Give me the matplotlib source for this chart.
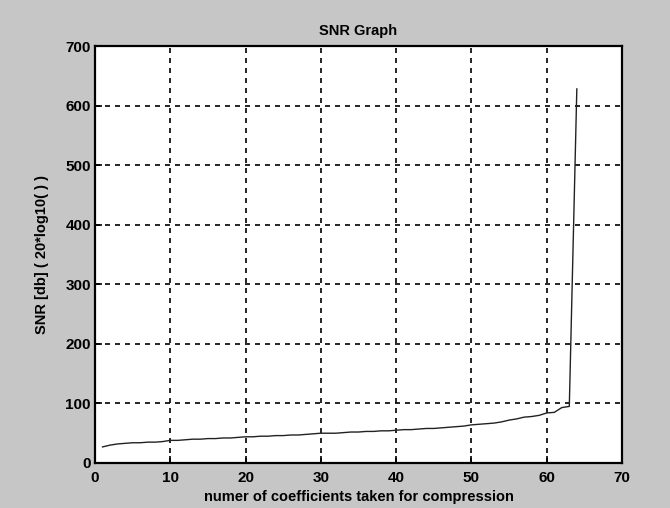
import numpy as np
import matplotlib
matplotlib.use("Agg")
import matplotlib.pyplot as plt

plt.rcParams['font.family'] = ['Liberation Sans', 'DejaVu Sans']

# SNR values, one per number of coefficients
n_coeffs = list(range(1, 65))
snr_db = [27, 30, 32, 33, 34, 34, 35, 35, 36, 38,
          38, 39, 40, 40, 41, 41, 42, 42, 43, 44,
          44, 45, 45, 46, 46, 47, 47, 48, 49, 50,
          50, 50, 51, 52, 52, 53, 53, 54, 54, 55,
          56, 56, 57, 58, 58, 59, 60, 61, 62, 64,
          65, 66, 67, 69, 72, 74, 77, 78, 80, 84,
          85, 93, 95, 628]

x_ticks = [0, 10, 20, 30, 40, 50, 60, 70]
y_ticks = [0, 100, 200, 300, 400, 500, 600, 700]

fig = plt.figure(figsize=(6.7, 5.08), dpi=100, facecolor='#c6c6c6')
ax = fig.add_axes([95 / 670, 45 / 508, 527 / 670, 417 / 508])
ax.set_facecolor('white')

ax.plot(n_coeffs, snr_db, color='#222222', linewidth=1.0)

ax.set_xlim(0, 70)
ax.set_ylim(0, 700)
ax.set_xticks(x_ticks)
ax.set_yticks(y_ticks)
ax.tick_params(direction='in', length=5, width=1.2, labelsize=11, pad=3)
ax.tick_params(axis='x', pad=6)
for lbl in ax.get_xticklabels() + ax.get_yticklabels():
    lbl.set_fontweight('bold')

ax.grid(True, color='black', linestyle=(0, (3, 3)), linewidth=1.2)
for sp in ax.spines.values():
    sp.set_linewidth(1.6)
    sp.set_color('black')

ax.set_title('SNR Graph', fontsize=10.5, fontweight='bold', pad=8)
ax.set_xlabel('numer of coefficients taken for compression', fontsize=10.5,
              fontweight='bold', labelpad=3)
ax.set_ylabel('SNR [db] ( 20*log10( ) )', fontsize=10.5, fontweight='bold',
              labelpad=12)

fig.savefig('out.png', dpi=100, facecolor=fig.get_facecolor())
